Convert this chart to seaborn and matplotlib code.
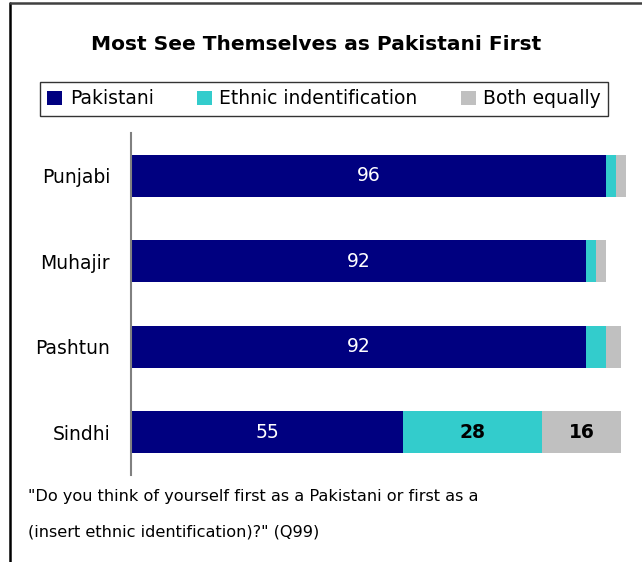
import matplotlib
matplotlib.use("Agg")
import matplotlib.pyplot as plt
from matplotlib.patches import Patch
from matplotlib.lines import Line2D
import pandas as pd
import seaborn as sns

# survey shares, percent
groups = ['Punjabi', 'Muhajir', 'Pashtun', 'Sindhi']
pakistani = [96, 92, 92, 55]
ethnic = [2, 2, 4, 28]
both = [2, 2, 3, 16]
series_names = ['Pakistani', 'Ethnic indentification', 'Both equally']
colors = ['#000080', '#33CCCC', '#C0C0C0']

df = pd.DataFrame({'group': groups, 'pak': pakistani, 'eth': ethnic, 'both': both})
df['pak_eth'] = df['pak'] + df['eth']
df['total'] = df['pak_eth'] + df['both']

sns.set_style('white')
plt.rcParams['font.family'] = ['DejaVu Sans']
plt.rcParams['text.color'] = 'black'
plt.rcParams['ytick.color'] = 'black'

fig = plt.figure(figsize=(6.42, 5.62), dpi=100)
ax = fig.add_axes([131/642, 1 - 475/562, 495/642, 342/562])

# stacked bars by layering cumulative totals
for col, c in zip(['total', 'pak_eth', 'pak'], colors[::-1]):
    sns.barplot(data=df, x=col, y='group', orient='h', color=c, width=0.49,
                saturation=1, ax=ax, linewidth=0)

for i, row in df.iterrows():
    ax.text(row.pak / 2, i, str(row.pak), color='white', ha='center', va='center', fontsize=13.5)
    if row.eth >= 10:
        ax.text(row.pak + row.eth / 2, i, str(row.eth), color='black', ha='center', va='center',
                fontsize=13.5, fontweight='semibold')
    if row.both >= 10:
        ax.text(row.pak_eth + row.both / 2, i, str(row.both), color='black', ha='center', va='center',
                fontsize=13.5, fontweight='semibold')

ax.set_xlim(0, 100)
ax.set_ylim(3.5, -0.5)
ax.set_xlabel('')
ax.set_ylabel('')
ax.set_xticks([])
ax.tick_params(axis='y', length=0, pad=15, labelsize=13.5, labelcolor='black')
for s in ['top', 'right', 'bottom']:
    ax.spines[s].set_visible(False)
ax.spines['left'].set_color('#808080')
ax.spines['left'].set_linewidth(1.5)

fig.text(316/642, 1 - 44/562, 'Most See Themselves as Pakistani First', ha='center', va='center',
         fontsize=14.5, fontweight='bold', color='black')

handles = [Patch(facecolor=c, edgecolor='none') for c in colors]
leg = fig.legend(handles, series_names, loc='center', bbox_to_anchor=(324/642, 1 - 99/562),
                 ncol=3, frameon=True, fancybox=False, fontsize=13.5, handlelength=0.8,
                 handleheight=0.8, handletextpad=0.4, columnspacing=2.3, borderpad=0.4)
leg.get_frame().set_edgecolor('black')
leg.get_frame().set_linewidth(1.0)

fig.text(28/642, 1 - 497/562, '"Do you think of yourself first as a Pakistani or first as a',
         ha='left', va='center', fontsize=11.6)
fig.text(28/642, 1 - 532/562, '(insert ethnic identification)?" (Q99)',
         ha='left', va='center', fontsize=11.6)

# outer frame: left and top edges
fig.add_artist(Line2D([9.5/642, 9.5/642], [0, 1 - 3/562], transform=fig.transFigure,
                      color='black', linewidth=1.8))
fig.add_artist(Line2D([9.5/642, 1], [1 - 3/562, 1 - 3/562], transform=fig.transFigure,
                      color='#404040', linewidth=1.8))

fig.savefig('out.png', dpi=100)
